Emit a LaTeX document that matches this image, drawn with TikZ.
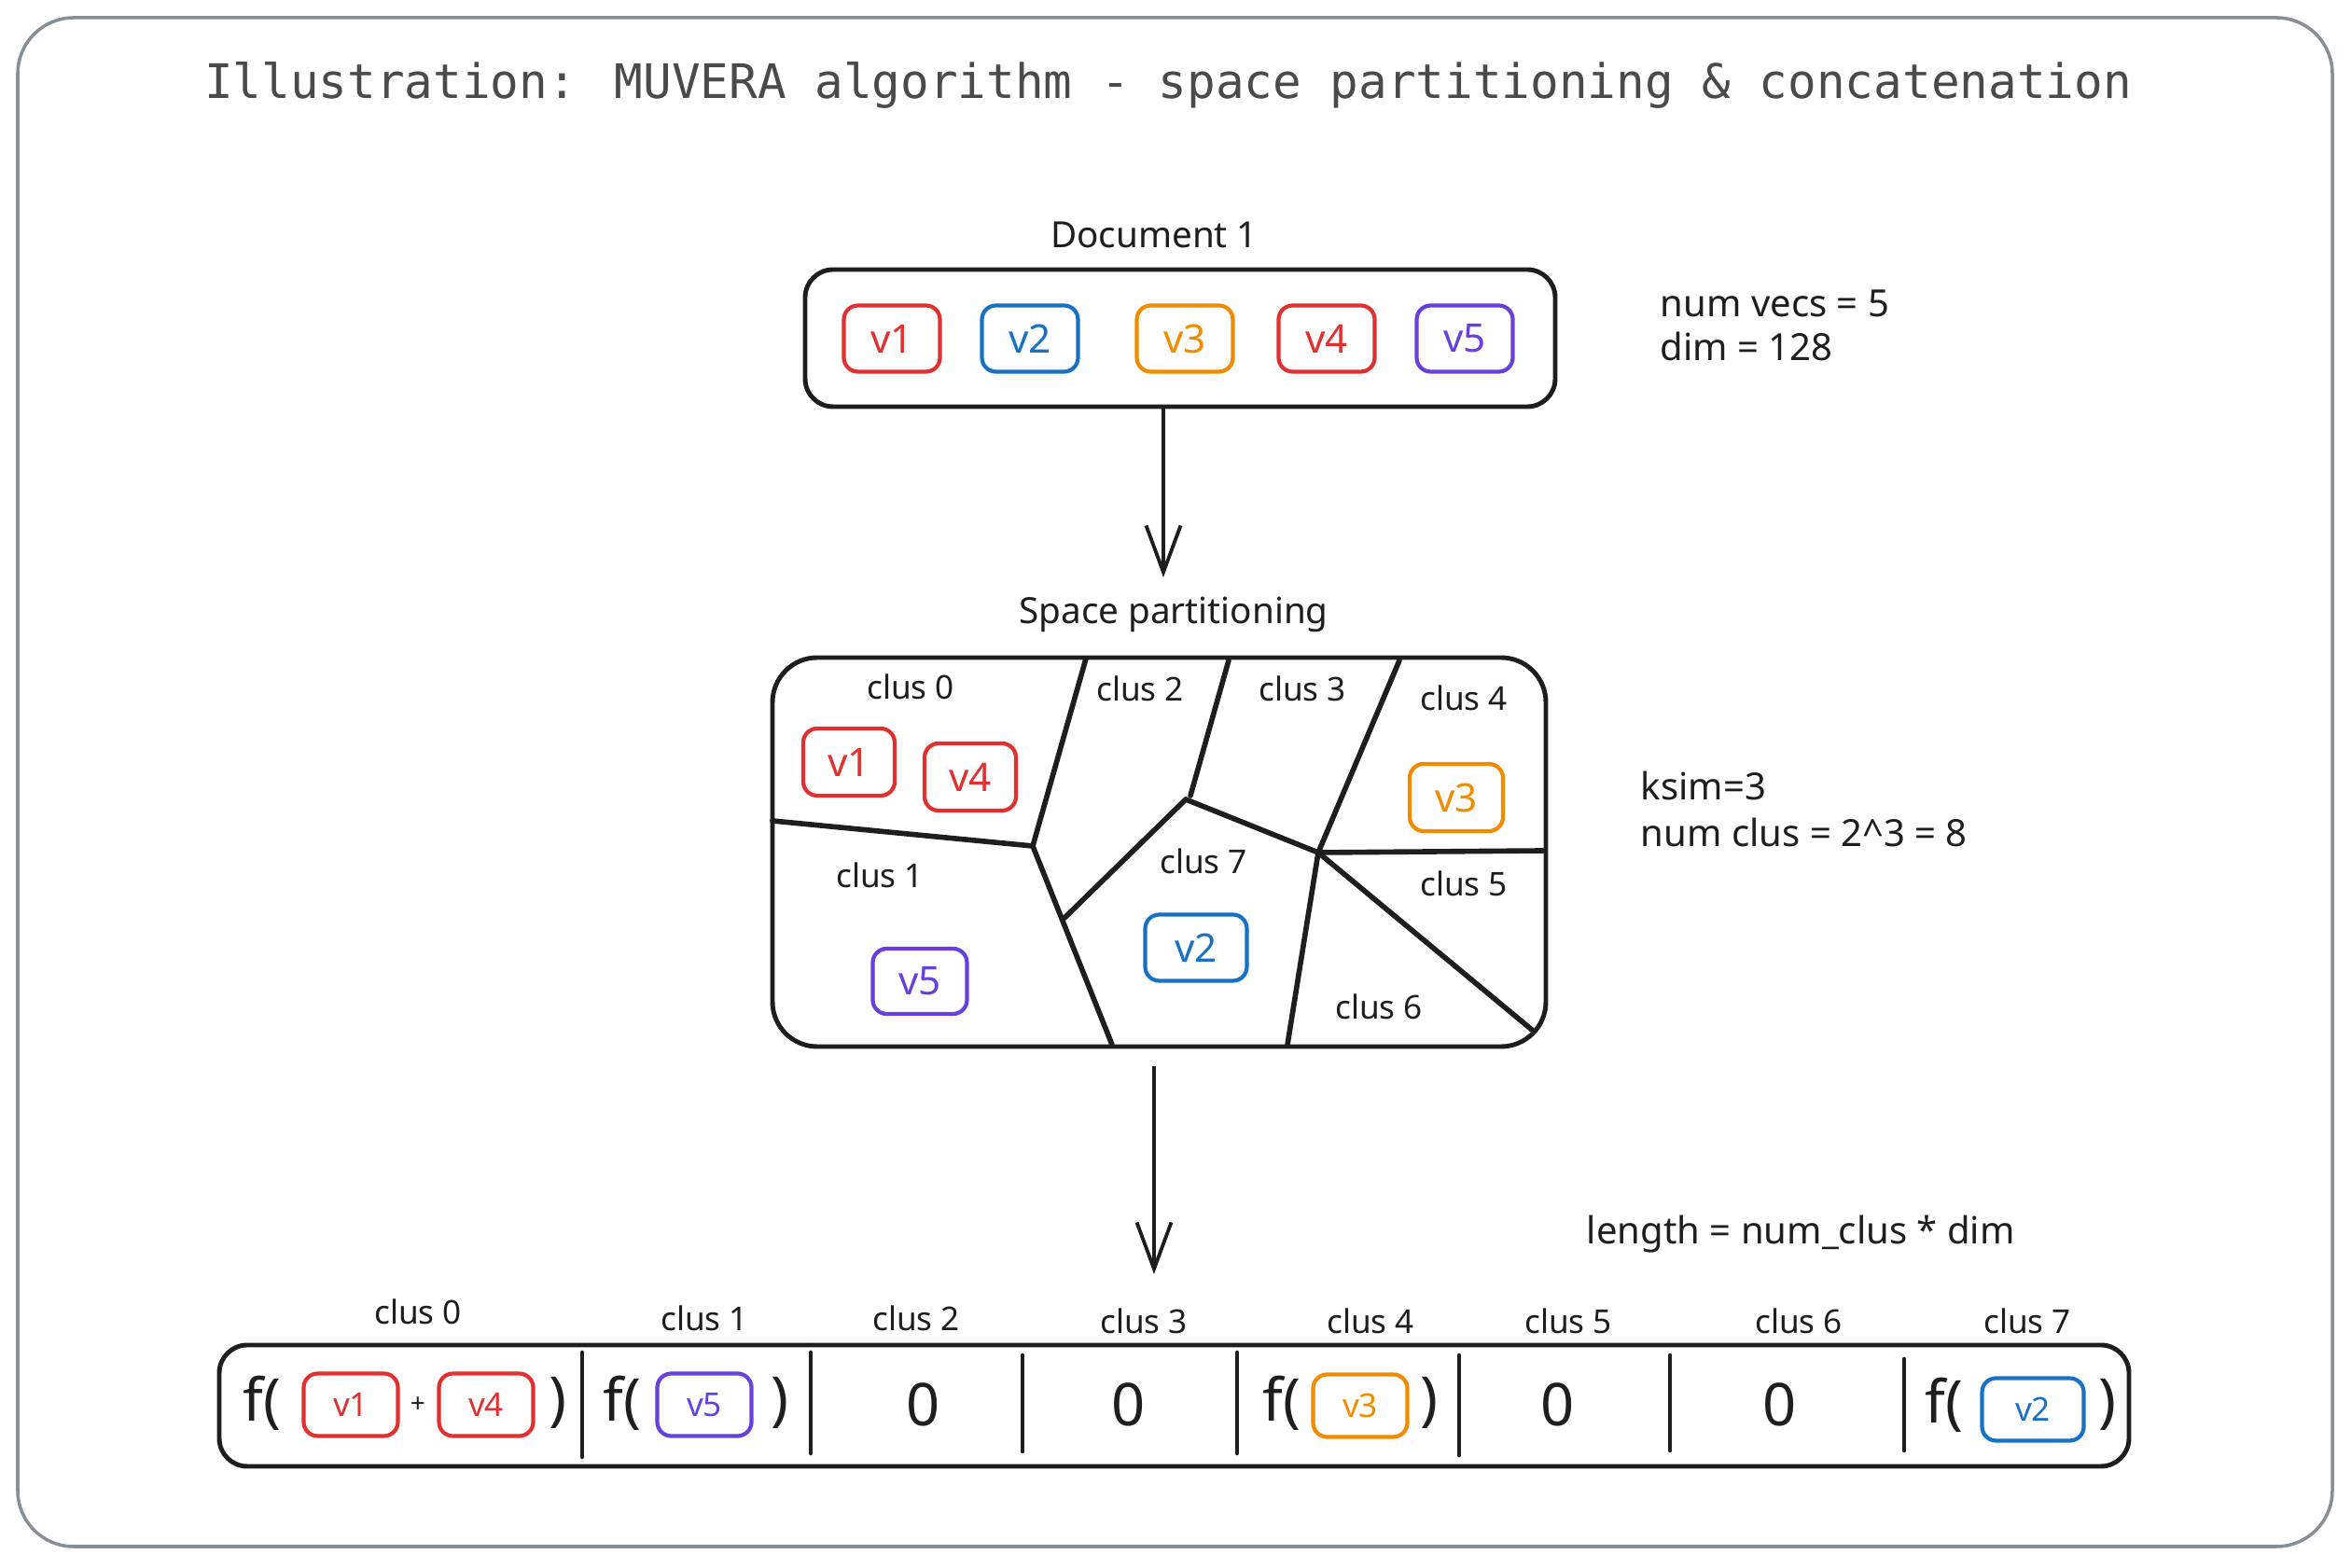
\documentclass[tikz,border=0pt]{standalone}
\usepackage{fontspec}
\setmainfont{Noto Sans}
\newfontfamily\codefont{DejaVu Sans Mono}
\usetikzlibrary{arrows.meta}
\usetikzlibrary{calc}
\definecolor{ink}{HTML}{1E1E1E}
\definecolor{framegray}{HTML}{868E96}
\definecolor{titlegray}{HTML}{4A4A4A}
\definecolor{vred}{HTML}{E03131}
\definecolor{vblue}{HTML}{1971C2}
\definecolor{vorange}{HTML}{F08C00}
\definecolor{vpurple}{HTML}{6741D9}

\begin{document}
\begin{tikzpicture}[
    frame/.style={draw=ink, line width=1.4pt},
    vec/.style={draw, line width=1.2pt, rounded corners=1.5mm, minimum width=1.03cm, minimum height=0.71cm, inner sep=0pt, font=\fontsize{12}{14}\selectfont},
    bvec/.style={vec, minimum width=1.01cm, minimum height=0.67cm, font=\fontsize{10}{12}\selectfont},
    lbl/.style={text=ink, font=\fontsize{11}{13}\selectfont},
    clus/.style={text=ink, font=\fontsize{10}{12}\selectfont},
    info/.style={anchor=west, align=left, inner xsep=0pt, text=ink},
    big/.style={text=ink, inner sep=0pt, font=\fontsize{18}{20}\selectfont},
    part/.style={draw=ink, line width=1.6pt, line cap=round},
    divider/.style={draw=ink, line width=1.3pt, line cap=round},
    arr/.style={draw=ink, line width=1.1pt, -{Straight Barb[length=5mm,width=3.7mm]}}
]
    \useasboundingbox (0,0) rectangle (25.2,16.8);
    \draw[framegray, line width=1pt, rounded corners=6mm] (0.19,0.22) rectangle (25.0,16.61);
    \node (title) at (12.52,15.88) [text=titlegray, font=\codefont\fontsize{14.5}{16}\selectfont] {Illustration: MUVERA algorithm - space partitioning \& concatenation};

    \node (docttl) at (12.37,14.28) [lbl] {Document 1};
    \node (doc) at (12.65,13.175) [frame, rounded corners=3mm, minimum width=8.04cm, minimum height=1.47cm] {};
    \node (d1) at (9.56,13.17) [vec, vred] {v1};
    \node (d2) at (11.04,13.17) [vec, vblue] {v2};
    \node (d3) at (12.70,13.17) [vec, vorange] {v3};
    \node (d4) at (14.22,13.17) [vec, vred] {v4};
    \node (d5) at (15.70,13.17) [vec, vpurple] {v5};
    \node (docinfo) at (17.79,13.31) [info, font=\fontsize{11.4}{13.6}\selectfont] {num vecs = 5\\dim = 128};

    \coordinate (a1) at (12.47,10.61);
    \draw[arr] (doc.south -| a1) -- (a1);

    \node (spttl) at (12.58,10.21) [lbl] {Space partitioning};
    \node (space) at (12.425,7.665) [frame, rounded corners=4.8mm, minimum width=8.29cm, minimum height=4.17cm] {};
    \coordinate (j1) at (11.07,7.73);
    \coordinate (j2) at (12.71,8.23);
    \coordinate (j3) at (14.13,7.66);
    \draw[part] (8.28,8.00) -- (j1);
    \draw[part] (11.64,9.74) -- (j1);
    \draw[part] (j1) -- (11.92,5.60);
    \draw[part] (13.17,9.72) -- (12.76,8.27);
    \draw[part] (j2) -- (11.40,6.95);
    \draw[part] (j2) -- (j3);
    \draw[part] (15.00,9.72) -- (j3);
    \draw[part] (j3) -- (16.54,7.68);
    \draw[part] (j3) -- (13.80,5.60);
    \draw[part] (j3) -- (16.42,5.76);
    \node (sc0) at (9.76,9.44) [clus] {clus 0};
    \node (sc1) at (9.43,7.42) [clus] {clus 1};
    \node (sc2) at (12.22,9.42) [clus] {clus 2};
    \node (sc3) at (13.96,9.42) [clus] {clus 3};
    \node (sc4) at (15.69,9.32) [clus] {clus 4};
    \node (sc5) at (15.69,7.33) [clus] {clus 5};
    \node (sc6) at (14.78,6.01) [clus] {clus 6};
    \node (sc7) at (12.90,7.57) [clus] {clus 7};
    \node (s1) at (9.10,8.63) [vec, vred, minimum width=0.98cm, minimum height=0.72cm] {v1};
    \node (s4) at (10.40,8.47) [vec, vred, minimum width=0.98cm, minimum height=0.72cm] {v4};
    \node (s3) at (15.61,8.25) [vec, vorange, minimum width=1.0cm, minimum height=0.72cm] {v3};
    \node (s2) at (12.82,6.64) [vec, vblue, minimum width=1.09cm, minimum height=0.71cm] {v2};
    \node (s5) at (9.86,6.28) [vec, vpurple, minimum width=1.01cm, minimum height=0.70cm] {v5};
    \node (spinfo) at (17.58,8.125) [info, font=\fontsize{11.4}{14.5}\selectfont] {ksim=3\\num clus = 2\textasciicircum 3 = 8};

    \coordinate (a2) at (12.37,3.14);
    \draw[arr] ($(space.south -| a2)+(0,-0.19)$) -- (a2);

    \node (leninfo) at (17.00,3.57) [info, font=\fontsize{11.4}{14}\selectfont] {length = num\_clus * dim};

    \node (bar) at (12.585,1.73) [frame, rounded corners=3mm, minimum width=20.47cm, minimum height=1.30cm] {};
    \draw[divider] (6.24,2.30) -- (6.24,1.18);
    \draw[divider] (8.69,2.30) -- (8.69,1.22);
    \draw[divider] (10.96,2.27) -- (10.96,1.24);
    \draw[divider] (13.26,2.30) -- (13.26,1.22);
    \draw[divider] (15.64,2.27) -- (15.64,1.20);
    \draw[divider] (17.90,2.27) -- (17.90,1.25);
    \draw[divider] (20.41,2.23) -- (20.41,1.25);
    \node (bc0) at (4.48,2.74) [clus] {clus 0};
    \node (bc1) at (7.55,2.67) [clus] {clus 1};
    \node (bc2) at (9.82,2.67) [clus] {clus 2};
    \node (bc3) at (12.26,2.64) [clus] {clus 3};
    \node (bc4) at (14.69,2.64) [clus] {clus 4};
    \node (bc5) at (16.81,2.64) [clus] {clus 5};
    \node (bc6) at (19.28,2.64) [clus] {clus 6};
    \node (bc7) at (21.73,2.64) [clus] {clus 7};

    \node (f0) at (2.81,1.76) [big] {f(};
    \node (b1) at (3.76,1.74) [bvec, vred] {v1};
    \node (plus) at (4.48,1.74) [text=ink, font=\fontsize{8}{9}\selectfont] {+};
    \node (b4) at (5.21,1.74) [bvec, vred] {v4};
    \node (r0) at (5.98,1.76) [big] {)};
    \node (f1) at (6.67,1.76) [big] {f(};
    \node (b5) at (7.55,1.74) [bvec, vpurple] {v5};
    \node (r1) at (8.36,1.76) [big] {)};
    \node (z2) at (9.90,1.74) [big] {0};
    \node (z3) at (12.10,1.74) [big] {0};
    \node (f4) at (13.74,1.76) [big] {f(};
    \node (b3) at (14.58,1.73) [bvec, vorange] {v3};
    \node (r4) at (15.32,1.76) [big] {)};
    \node (z5) at (16.70,1.74) [big] {0};
    \node (z6) at (19.08,1.74) [big] {0};
    \node (f7) at (20.84,1.74) [big] {f(};
    \node (b2) at (21.79,1.69) [bvec, vblue, minimum width=1.09cm] {v2};
    \node (r7) at (22.59,1.74) [big] {)};
\end{tikzpicture}
\end{document}
